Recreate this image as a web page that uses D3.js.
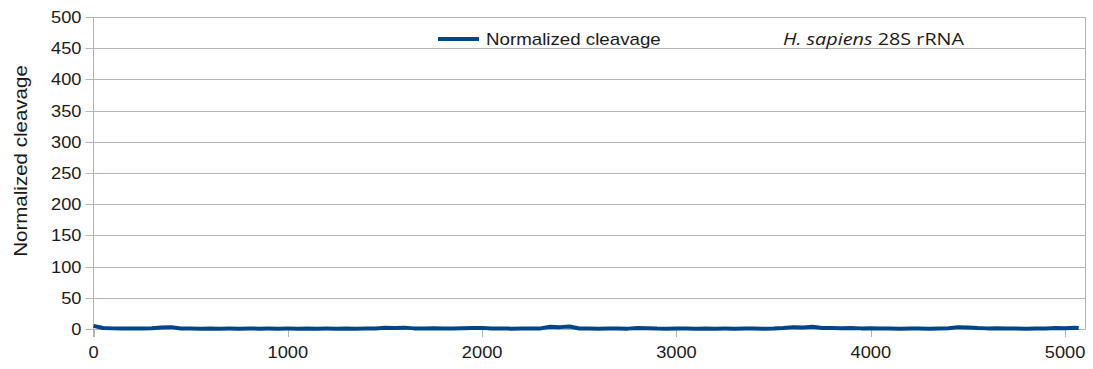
<!DOCTYPE html>
<html>
<head>
<meta charset="utf-8">
<script src="https://cdn.jsdelivr.net/npm/d3@7"></script>
<style>
  body { margin: 0; background: #fff; }
  text { font-family: "Liberation Sans", Arial, sans-serif; }
</style>
</head>
<body>
<div id="chart"></div>
<script>
// nucleotide step between the sampled values below
const step = 50;
// normalized cleavage, every 50 nt (0 .. 5050), then the last position
const cleavage = [
  5, 1.5, 1, 0.8, 1, 0.8, 1.2, 2.5, 3, 0.8,
  0.7, 0.6, 0.8, 0.6, 0.7, 0.6, 0.8, 0.6, 0.7, 0.6,
  0.7, 0.6, 0.8, 0.6, 0.7, 0.6, 0.8, 0.6, 0.7, 0.8,
  2, 1.8, 2.2, 1, 1, 1.2, 1, 1, 1.2, 1.5,
  1.8, 0.8, 0.7, 0.6, 0.8, 0.7, 1, 3.5, 3, 4,
  0.8, 0.7, 0.6, 0.8, 0.7, 0.6, 1.5, 1.2, 0.7, 0.6,
  0.8, 0.7, 0.6, 0.8, 0.6, 0.7, 0.6, 0.8, 0.7, 0.6,
  0.8, 1.5, 3, 2.5, 3.5, 1.5, 1.5, 1.2, 1.5, 1,
  1.2, 0.8, 0.7, 0.6, 0.8, 0.7, 0.6, 0.8, 1.2, 3,
  2.5, 1.5, 1, 1.2, 0.8, 0.7, 0.6, 0.8, 1, 1.5,
  1.2, 2
];
const lastPos = 5070;
const lastValue = 1.5;
const xTicks = [0, 1000, 2000, 3000, 4000, 5000];
const yTicks = [0, 50, 100, 150, 200, 250, 300, 350, 400, 450, 500];
const seriesName = "Normalized cleavage";
const yTitle = "Normalized cleavage";

const data = cleavage.map((v, i) => ({ pos: i * step, value: v }));
data.push({ pos: lastPos, value: lastValue });

const width = 1093, height = 369;
const margin = { top: 17, right: 7.5, bottom: 40, left: 93.5 };
const stretch = 1.14; // the original text is a bit wider than Liberation Sans

const svg = d3.select("#chart").append("svg")
  .attr("width", width)
  .attr("height", height);

const x = d3.scaleLinear()
  .domain([0, 5105])
  .range([margin.left, width - margin.right]);

const y = d3.scaleLinear()
  .domain([0, 500])
  .range([height - margin.bottom, margin.top]);

// horizontal grid
svg.append("g")
  .selectAll("line")
  .data(yTicks)
  .join("line")
  .attr("x1", margin.left - 8)
  .attr("x2", width - margin.right)
  .attr("y1", d => Math.round(y(d)) + 0.5)
  .attr("y2", d => Math.round(y(d)) + 0.5)
  .attr("stroke", "#b3b3b3")
  .attr("stroke-width", 1);

// left and right frame
svg.append("line")
  .attr("x1", margin.left).attr("x2", margin.left)
  .attr("y1", y(500)).attr("y2", y(0) + 8)
  .attr("stroke", "#b3b3b3");
svg.append("line")
  .attr("x1", width - margin.right).attr("x2", width - margin.right)
  .attr("y1", y(500)).attr("y2", y(0))
  .attr("stroke", "#b3b3b3");

// x ticks
svg.append("g")
  .selectAll("line")
  .data(xTicks)
  .join("line")
  .attr("x1", d => Math.round(x(d)) + 0.5)
  .attr("x2", d => Math.round(x(d)) + 0.5)
  .attr("y1", y(0))
  .attr("y2", y(0) + 8)
  .attr("stroke", "#b3b3b3");

svg.append("g")
  .selectAll("text")
  .data(xTicks)
  .join("text")
  .attr("transform", d => `translate(${x(d)},${y(0) + 29}) scale(${stretch},1)`)
  .attr("text-anchor", "middle")
  .attr("font-size", 16)
  .attr("fill", "#1a1a1a")
  .text(d => d);

svg.append("g")
  .selectAll("text")
  .data(yTicks)
  .join("text")
  .attr("transform", d => `translate(${margin.left - 12},${y(d) + 6}) scale(${stretch},1)`)
  .attr("text-anchor", "end")
  .attr("font-size", 16)
  .attr("fill", "#1a1a1a")
  .text(d => d);

// y title
svg.append("text")
  .attr("transform", `translate(27, ${y(250) - 12}) rotate(-90) scale(${stretch},1)`)
  .attr("text-anchor", "middle")
  .attr("font-size", 18)
  .attr("fill", "#1a1a1a")
  .text(yTitle);

// the series
const line = d3.line()
  .x(d => x(d.pos))
  .y(d => y(d.value));

svg.append("path")
  .datum(data)
  .attr("d", line)
  .attr("fill", "none")
  .attr("stroke", "#004586")
  .attr("stroke-width", 4)
  .attr("stroke-linejoin", "round");

// legend
svg.append("line")
  .attr("x1", 438).attr("x2", 479)
  .attr("y1", 39).attr("y2", 39)
  .attr("stroke", "#004586")
  .attr("stroke-width", 4);
svg.append("text")
  .attr("transform", `translate(486,45) scale(1.17,1)`)
  .attr("font-size", 16)
  .attr("fill", "#1a1a1a")
  .text(seriesName);

const label = svg.append("text")
  .attr("transform", `translate(783,45) scale(1.2,1)`)
  .attr("font-size", 16.5)
  .attr("fill", "#1a1a1a")
  .style("font-family", "'Open Sans', sans-serif");
label.append("tspan").attr("font-style", "italic").text("H. sapiens");
label.append("tspan").text(" 28S rRNA");
</script>
</body>
</html>
